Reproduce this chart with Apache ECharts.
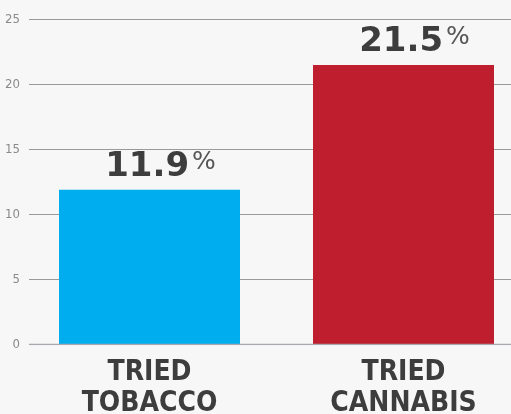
<!DOCTYPE html>
<html><head><meta charset="utf-8">
<script src="https://cdn.jsdelivr.net/npm/echarts@6/dist/echarts.min.js"></script>
<style>html,body{margin:0;padding:0;background:#f7f7f7;}#c{width:511px;height:414px;}</style>
</head><body><div id="c"></div>
<script>
const categories = ['TRIED\nTOBACCO', 'TRIED\nCANNABIS'];
const values = [11.9, 21.5];
const barColors = ['#00aeef', '#be1e2d'];
const yTicks = [0, 5, 10, 15, 20, 25];

const chart = echarts.init(document.getElementById('c'));
const gTop = 19.5, gBottom = 414 - 344.5;
chart.setOption({
  backgroundColor: '#f7f7f7',
  animation: false,
  grid: [
    {left: 29, right: 0, top: gTop, bottom: gBottom, outerBoundsMode: 'none', containLabel: false},
    {left: 22.5, right: -19.5, top: gTop, bottom: gBottom, outerBoundsMode: 'none', containLabel: false}
  ],
  xAxis: [
    {gridIndex: 0, type: 'value', show: false, min: 0, max: 1},
    {gridIndex: 1, type: 'category', data: categories,
     axisLine: {show: false}, axisTick: {show: false},
     axisLabel: {color: '#3d3d3d', fontFamily: 'DejaVu Sans Condensed', fontWeight: 'bold', fontSize: 28, lineHeight: 31, margin: 13}}
  ],
  yAxis: [
    {gridIndex: 0, type: 'value', min: yTicks[0], max: yTicks[yTicks.length-1], interval: 5,
     axisLine: {show: false}, axisTick: {show: false},
     axisLabel: {color: '#8a8a8a', fontFamily: 'DejaVu Sans Condensed', fontSize: 13, margin: 9},
     splitLine: {lineStyle: {color: '#9a9a9a', width: 1}}},
    {gridIndex: 1, type: 'value', min: 0, max: 25, show: false}
  ],
  series: [{
    type: 'bar', xAxisIndex: 1, yAxisIndex: 1,
    barWidth: 181,
    data: values.map((v, i) => ({value: v, itemStyle: {color: barColors[i]}})),
    label: {
      show: true, position: 'top', distance: 6, offset: [11, 0],
      formatter: p => '{v|' + p.value + '}{p|%}',
      rich: {
        v: {fontFamily: 'DejaVu Sans', fontWeight: 'bold', fontSize: 34, color: '#3d3d3d'},
        p: {fontFamily: 'DejaVu Sans', fontSize: 25, color: '#555', verticalAlign: 'top', padding: [0, 0, 0, 3]}
      }
    },
    z: 3
  }, {
    type: 'line', xAxisIndex: 0, yAxisIndex: 0, data: [[0, 0], [1, 0]],
    symbol: 'none', lineStyle: {color: '#a9a9b0', width: 1.5}, z: 4, silent: true
  }]
});
</script></body></html>
